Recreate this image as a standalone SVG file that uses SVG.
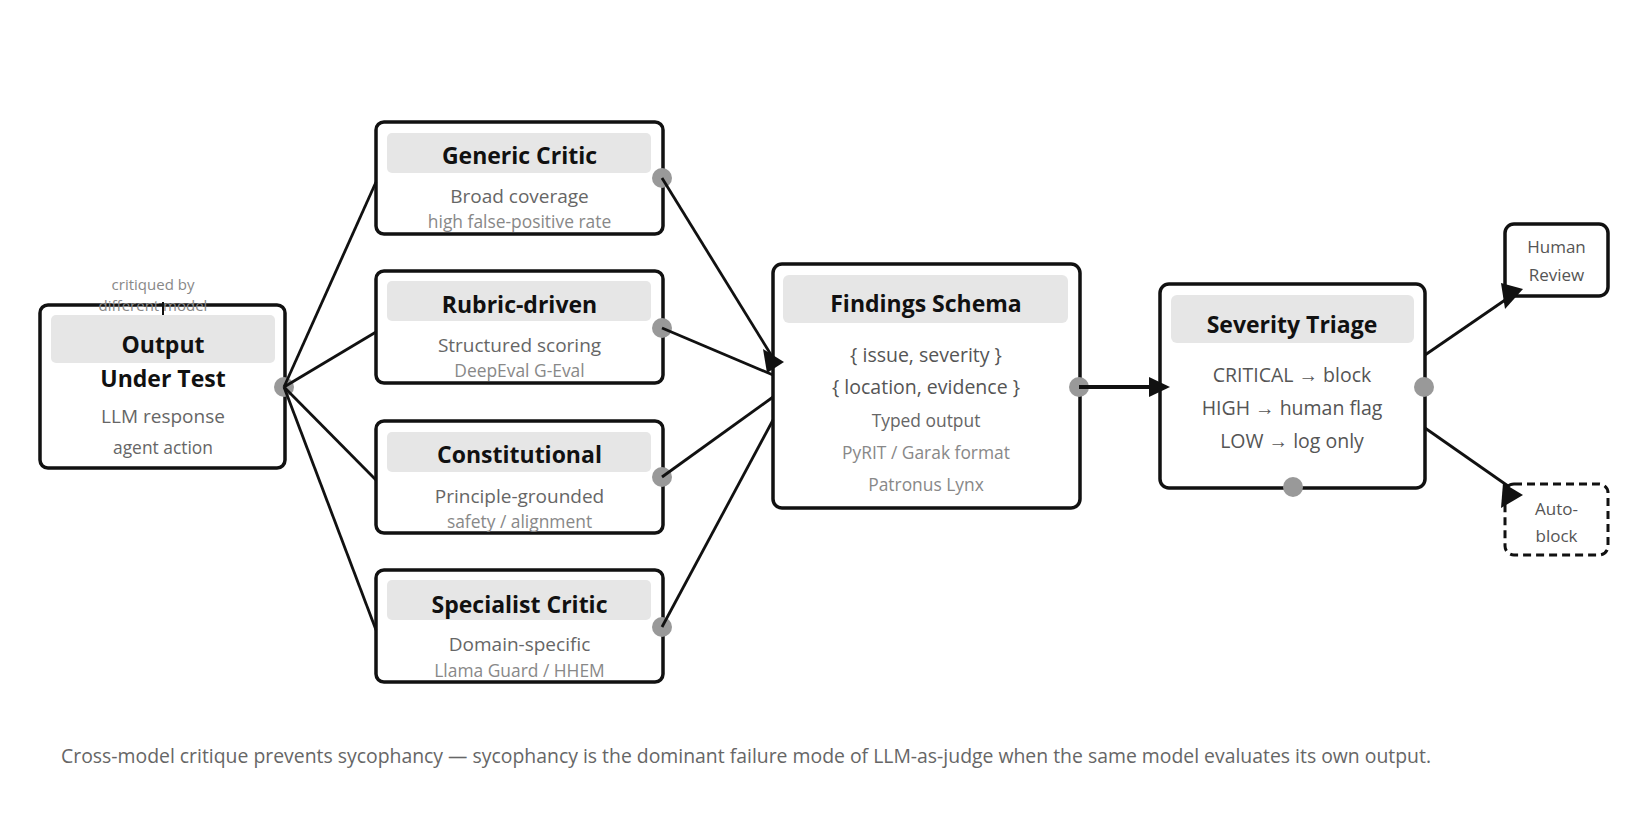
<svg xmlns="http://www.w3.org/2000/svg" width="1628" height="814" viewBox="0 0 1628 814">
<style>
text{font-family:"Open Sans","Noto Sans","Liberation Sans",sans-serif;text-anchor:middle}
.box{fill:#fff;stroke:#111;stroke-width:3.5}
.dash{fill:#fff;stroke:#111;stroke-width:3;stroke-dasharray:8 5}
.hdr{fill:#e6e6e6}
.t{font-weight:700;font-size:23px;fill:#111}
.s{font-size:19px;fill:#666}
.d{font-size:19.5px;fill:#555}
.m{font-size:17.4px;fill:#888}
.m2{font-size:17.4px;fill:#666}
.n{font-size:17.4px;fill:#666}
.h{font-size:17px;fill:#555}
.port{fill:#999}
.ln{stroke:#111;stroke-width:2.8;fill:none}
.ah{fill:#111}
.cap{font-size:19.4px;fill:#666;text-anchor:start}
.lbl{font-size:15px;fill:#888}
</style>
<rect width="1628" height="814" fill="#fff"/>
<g id="output">
<rect class="box" x="40" y="305" width="245" height="163" rx="8"/>
<rect class="hdr" x="51" y="315" width="224" height="48" rx="5"/>
<text class="t" x="163" y="353">Output</text>
<text class="t" x="163" y="387">Under Test</text>
<text class="s" x="163" y="423">LLM response</text>
<text class="m2" x="163" y="454">agent action</text>
<text class="lbl" x="153" y="290">critiqued by</text>
<text class="lbl" x="153" y="311">different model</text>
<circle class="port" cx="284" cy="387" r="10"/>
</g>
<g id="generic">
<rect class="box" x="376" y="122" width="287" height="112" rx="8"/>
<rect class="hdr" x="387" y="133" width="264" height="40" rx="5"/>
<text class="t" x="519.5" y="164">Generic Critic</text>
<text class="s" x="519.5" y="203">Broad coverage</text>
<text class="m" x="519.5" y="228">high false-positive rate</text>
<circle class="port" cx="662" cy="178" r="10"/>
</g>
<g id="rubric">
<rect class="box" x="376" y="271" width="287" height="112" rx="8"/>
<rect class="hdr" x="387" y="281" width="264" height="40" rx="5"/>
<text class="t" x="519.5" y="313">Rubric-driven</text>
<text class="s" x="519.5" y="352">Structured scoring</text>
<text class="m" x="519.5" y="377">DeepEval G-Eval</text>
<circle class="port" cx="662" cy="328" r="10"/>
</g>
<g id="constitutional">
<rect class="box" x="376" y="421" width="287" height="112" rx="8"/>
<rect class="hdr" x="387" y="432" width="264" height="40" rx="5"/>
<text class="t" x="519.5" y="463">Constitutional</text>
<text class="s" x="519.5" y="503">Principle-grounded</text>
<text class="m" x="519.5" y="528">safety / alignment</text>
<circle class="port" cx="662" cy="477" r="10"/>
</g>
<g id="specialist">
<rect class="box" x="376" y="570" width="287" height="112" rx="8"/>
<rect class="hdr" x="387" y="580" width="264" height="40" rx="5"/>
<text class="t" x="519.5" y="613">Specialist Critic</text>
<text class="s" x="519.5" y="651">Domain-specific</text>
<text class="m" x="519.5" y="677">Llama Guard / HHEM</text>
<circle class="port" cx="662" cy="627" r="10"/>
</g>
<g id="findings">
<rect class="box" x="773" y="264" width="307" height="244" rx="9"/>
<rect class="hdr" x="783" y="275" width="285" height="48" rx="6"/>
<text class="t" x="926" y="312">Findings Schema</text>
<text class="d" x="926" y="362">{ issue, severity }</text>
<text class="d" x="926" y="394">{ location, evidence }</text>
<text class="n" x="926" y="427">Typed output</text>
<text class="m" x="926" y="459">PyRIT / Garak format</text>
<text class="m" x="926" y="491">Patronus Lynx</text>
<circle class="port" cx="1079" cy="387" r="10"/>
</g>
<g id="triage">
<rect class="box" x="1160" y="284" width="265" height="204" rx="9"/>
<rect class="hdr" x="1171" y="295" width="243" height="48" rx="6"/>
<text class="t" x="1292" y="333">Severity Triage</text>
<text class="d" x="1292" y="382">CRITICAL → block</text>
<text class="d" x="1292" y="415">HIGH → human flag</text>
<text class="d" x="1292" y="448">LOW → log only</text>
<circle class="port" cx="1424" cy="387" r="10"/>
<circle class="port" cx="1293" cy="487" r="10"/>
</g>
<g id="human">
<rect class="box" x="1505" y="224" width="103" height="72" rx="9" stroke-width="3"/>
<text class="h" x="1556.5" y="253">Human</text>
<text class="h" x="1556.5" y="281">Review</text>
</g>
<g id="autoblock">
<rect class="dash" x="1505" y="484" width="103" height="71" rx="9"/>
<text class="h" x="1556.5" y="515">Auto-</text>
<text class="h" x="1556.5" y="542">block</text>
</g>
<g id="connectors">
<line class="ln" x1="284" y1="387" x2="376" y2="182"/>
<line class="ln" x1="284" y1="387" x2="376" y2="332" stroke-width="3.2"/>
<line class="ln" x1="284" y1="387" x2="376" y2="480"/>
<line class="ln" x1="284" y1="387" x2="376" y2="630"/>
<line class="ln" x1="662" y1="178" x2="773" y2="358"/>
<line class="ln" x1="662" y1="328" x2="773" y2="375"/>
<line class="ln" x1="662" y1="477" x2="773" y2="397"/>
<line class="ln" x1="662" y1="627" x2="773" y2="420"/>
<polygon class="ah" points="763,349 784,362 767,373"/>
<line stroke="#111" stroke-width="4" x1="1079" y1="387" x2="1152" y2="387"/>
<polygon class="ah" points="1149,377 1170,387 1149,397"/>
<line class="ln" x1="1425" y1="355" x2="1508" y2="298"/>
<polygon class="ah" points="1501,283 1523,289 1505,309"/>
<line class="ln" x1="1425" y1="428" x2="1508" y2="486"/>
<polygon class="ah" points="1503,483 1523,495 1501,508"/>
<line stroke="#111" stroke-width="2" x1="163" y1="302" x2="163" y2="315"/>
</g>
<text class="cap" x="61" y="763">Cross-model critique prevents sycophancy — sycophancy is the dominant failure mode of LLM-as-judge when the same model evaluates its own output.</text>
</svg>
